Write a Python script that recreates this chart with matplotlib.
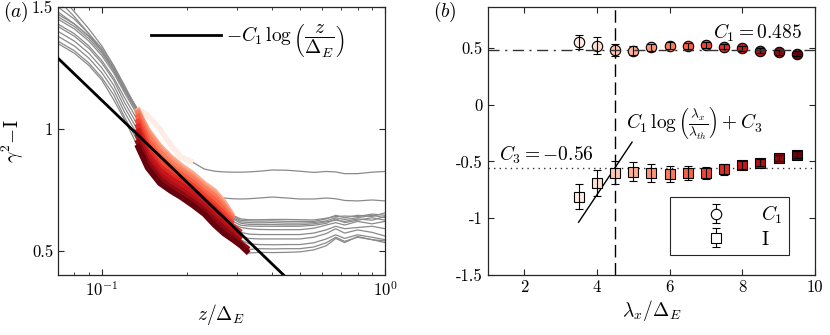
import numpy as np
import matplotlib
matplotlib.use('Agg')
import matplotlib.pyplot as plt
from matplotlib.ticker import FixedLocator, FixedFormatter, LogLocator, NullFormatter, LogFormatterSciNotation

plt.rcParams['font.family'] = 'serif'
plt.rcParams['font.serif'] = ['cmr10', 'DejaVu Serif']
plt.rcParams['mathtext.fontset'] = 'cm'
plt.rcParams['axes.unicode_minus'] = False
plt.rcParams['axes.formatter.use_mathtext'] = False

# ---------------- data: panel (a) ----------------
z_grid = [0.07, 0.08, 0.09, 0.10, 0.11, 0.12, 0.133, 0.145, 0.16, 0.175, 0.19, 0.21,
          0.23, 0.25, 0.27, 0.29, 0.31, 0.33, 0.36, 0.40, 0.45, 0.50, 0.56, 0.62,
          0.67, 0.72, 0.80, 0.90, 1.0]
g0 = [1.56, 1.48, 1.41, 1.34, 1.26, 1.17, 1.085, 1.055, 1.0, 0.935, 0.885, 0.862, 0.835, 0.826, 0.823, 0.822, 0.822, 0.823, 0.826, 0.831, 0.830, 0.826, 0.821, 0.825, 0.823, 0.816, 0.816, 0.822, 0.825]
g1 = [1.53, 1.46, 1.39, 1.32, 1.24, 1.16, 1.07, 1.0, 0.93, 0.88, 0.84, 0.80, 0.76, 0.72, 0.716, 0.713, 0.712, 0.713, 0.716, 0.72, 0.716, 0.712, 0.712, 0.716, 0.713, 0.706, 0.704, 0.708, 0.704]
g2 = [1.50, 1.45, 1.39, 1.33, 1.26, 1.18, 1.08, 0.99, 0.925, 0.88, 0.845, 0.81, 0.77, 0.74, 0.695, 0.645, 0.630, 0.627, 0.627, 0.628, 0.628, 0.627, 0.626, 0.633, 0.64, 0.642, 0.64, 0.65, 0.645]
g3 = [1.48, 1.43, 1.38, 1.32, 1.25, 1.17, 1.085, 0.995, 0.93, 0.885, 0.85, 0.815, 0.775, 0.745, 0.70, 0.64, 0.624, 0.622, 0.621, 0.622, 0.62, 0.62, 0.62, 0.63, 0.645, 0.635, 0.645, 0.64, 0.655]
g4 = [1.47, 1.43, 1.38, 1.32, 1.25, 1.17, 1.08, 0.99, 0.92, 0.875, 0.84, 0.805, 0.765, 0.735, 0.69, 0.635, 0.618, 0.615, 0.614, 0.615, 0.613, 0.613, 0.615, 0.622, 0.635, 0.628, 0.635, 0.645, 0.635]
g5 = [1.46, 1.42, 1.37, 1.31, 1.24, 1.16, 1.075, 0.975, 0.905, 0.86, 0.83, 0.795, 0.755, 0.725, 0.68, 0.63, 0.612, 0.608, 0.607, 0.607, 0.606, 0.606, 0.61, 0.618, 0.625, 0.62, 0.63, 0.625, 0.64]
g6 = [1.45, 1.41, 1.36, 1.30, 1.23, 1.15, 1.06, 0.955, 0.885, 0.845, 0.815, 0.78, 0.74, 0.71, 0.665, 0.62, 0.604, 0.601, 0.600, 0.600, 0.600, 0.600, 0.604, 0.612, 0.63, 0.615, 0.625, 0.635, 0.625]
g7 = [1.43, 1.39, 1.34, 1.28, 1.21, 1.13, 1.04, 0.935, 0.865, 0.825, 0.80, 0.765, 0.725, 0.69, 0.65, 0.61, 0.595, 0.59, 0.587, 0.586, 0.586, 0.586, 0.592, 0.605, 0.615, 0.605, 0.62, 0.61, 0.62]
g8 = [1.42, 1.38, 1.33, 1.27, 1.20, 1.11, 1.02, 0.915, 0.845, 0.81, 0.785, 0.75, 0.71, 0.675, 0.635, 0.60, 0.575, 0.568, 0.566, 0.566, 0.566, 0.566, 0.572, 0.585, 0.60, 0.59, 0.595, 0.60, 0.59]
g9 = [1.40, 1.36, 1.31, 1.25, 1.18, 1.09, 1.0, 0.895, 0.83, 0.795, 0.77, 0.735, 0.695, 0.66, 0.62, 0.59, 0.56, 0.55, 0.548, 0.548, 0.548, 0.548, 0.555, 0.57, 0.59, 0.572, 0.585, 0.575, 0.56]
g10 = [1.38, 1.34, 1.29, 1.23, 1.16, 1.07, 0.98, 0.875, 0.81, 0.775, 0.75, 0.715, 0.68, 0.64, 0.605, 0.575, 0.545, 0.528, 0.525, 0.524, 0.525, 0.525, 0.532, 0.548, 0.565, 0.55, 0.565, 0.555, 0.545]
g11 = [1.36, 1.32, 1.27, 1.21, 1.14, 1.05, 0.955, 0.86, 0.795, 0.76, 0.735, 0.70, 0.665, 0.625, 0.59, 0.56, 0.53, 0.505, 0.508, 0.507, 0.508, 0.508, 0.515, 0.532, 0.555, 0.538, 0.555, 0.545, 0.54]
g12 = [1.35, 1.31, 1.26, 1.20, 1.12, 1.04, 0.935, 0.84, 0.777, 0.745, 0.72, 0.685, 0.65, 0.605, 0.57, 0.545, 0.52, 0.49, 0.493, 0.492, 0.493, 0.495, 0.503, 0.52, 0.55, 0.533, 0.558, 0.545, 0.533]
curves = [g0, g1, g2, g3, g4, g5, g6, g7, g8, g9, g10, g11, g12]
fit_start = [0.133] * 13
fit_end = [0.21, 0.25, 0.29, 0.29, 0.29, 0.29, 0.29, 0.29, 0.31, 0.31, 0.31, 0.33, 0.33]
C1_fit = 0.485
fit_line_z = [0.07, 1.0]

# ---------------- data: panel (b) ----------------
lam = [3.5, 4.0, 4.5, 5.0, 5.5, 6.0, 6.5, 7.0, 7.5, 8.0, 8.5, 9.0, 9.5]
C1_vals = [0.555, 0.52, 0.48, 0.475, 0.505, 0.52, 0.515, 0.525, 0.51, 0.495, 0.475, 0.46, 0.45]
C1_err = [0.062, 0.072, 0.05, 0.04, 0.03, 0.03, 0.025, 0.025, 0.02, 0.02, 0.02, 0.02, 0.02]
I_vals = [-0.81, -0.69, -0.60, -0.59, -0.60, -0.61, -0.60, -0.60, -0.57, -0.535, -0.51, -0.47, -0.44]
I_err = [0.11, 0.115, 0.10, 0.085, 0.078, 0.07, 0.063, 0.054, 0.045, 0.035, 0.03, 0.03, 0.03]
C3_fit = -0.56
lam_th = 4.5
slope_line_x = [3.5, 4.97]
slope_line_y = [-1.035, -0.33]

colors = plt.cm.Reds(np.linspace(0.05, 1.0, len(lam)))
axcol = '#262626'

fig = plt.figure(figsize=(8.3, 3.35), dpi=100)
ax1 = fig.add_axes([58/830, 60/335, 327/830, 268/335])
ax2 = fig.add_axes([487.7/830, 60/335, 327.3/830, 268/335])

# ---- panel (a)
zg = np.array(z_grid)
for g in curves:
    ax1.plot(zg, g, color='#8a8a8a', lw=0.9, zorder=1)
for i, g in enumerate(curves):
    ga = np.array(g)
    m = (zg >= fit_start[i] - 1e-9) & (zg <= fit_end[i] + 1e-9)
    ax1.plot(zg[m], ga[m], color=colors[i], lw=4.0, solid_capstyle='butt',
             solid_joinstyle='round', zorder=2)
zl = np.array(fit_line_z)
ax1.plot(zl, -C1_fit * np.log(zl), color='k', lw=2.0, zorder=3,
         label=r'$-C_1\,\log\left(\dfrac{z}{\Delta_E}\right)$')
ax1.set_xscale('log')
ax1.set_xlim(0.07, 1.0)
ax1.set_ylim(0.4, 1.5)
ax1.set_yticks([0.5, 1.0, 1.5])
ax1.yaxis.set_major_formatter(FixedFormatter(['0.5', '1', '1.5']))
ax1.xaxis.set_major_locator(FixedLocator([0.1, 1.0]))
ax1.xaxis.set_major_formatter(LogFormatterSciNotation())
ax1.xaxis.set_minor_locator(LogLocator(base=10, subs=np.arange(2, 10)))
ax1.xaxis.set_minor_formatter(NullFormatter())
ax1.set_xlabel(r'$z/\Delta_E$', fontsize=14, labelpad=2)
ax1.set_ylabel(r'$\gamma^2\!-\!\mathrm{I}$', fontsize=14, labelpad=4)
leg1 = ax1.legend(loc='center', bbox_to_anchor=(0.58, 0.875), frameon=False,
                  fontsize=14, handlelength=3.6, handletextpad=0.3)

# ---- panel (b)
for i in range(len(lam)):
    ax2.plot(lam[i], C1_vals[i], 'o', mfc=colors[i], mec='k', ms=7.5, mew=0.8, zorder=3)
    ax2.plot(lam[i], I_vals[i], 's', mfc=colors[i], mec='k', ms=7.5, mew=0.8, zorder=3)
ax2.errorbar(lam, C1_vals, yerr=C1_err, fmt='none', ecolor='k', elinewidth=0.8,
             capsize=3, capthick=0.8, zorder=4)
ax2.errorbar(lam, I_vals, yerr=I_err, fmt='none', ecolor='k', elinewidth=0.8,
             capsize=3, capthick=0.8, zorder=4)
ax2.axhline(C1_fit, color='#333333', lw=1.0, ls=(0, (8, 4, 1.5, 4)), zorder=5)
ax2.axhline(C3_fit, color='#333333', lw=1.0, ls=(0, (1, 3)), zorder=2)
ax2.axvline(lam_th, color='k', lw=1.0, ls=(0, (9, 4)), zorder=2)
ax2.plot(slope_line_x, slope_line_y, color='k', lw=1.0, zorder=2)
ax2.text(7.2, 0.635, r'$C_1 = 0.485$', fontsize=14, va='center', ha='left')
ax2.text(1.3, -0.44, r'$C_3 = -0.56$', fontsize=14, va='center', ha='left')
ax2.text(4.8, -0.165, r'$C_1\,\log\left(\frac{\lambda_x}{\lambda_{th}}\right)+C_3$',
         fontsize=14, va='center', ha='left')
h1 = ax2.errorbar([np.nan], [np.nan], yerr=[0.1], fmt='o', mfc='w', mec='k', ms=7.5,
                  mew=0.8, ecolor='k', elinewidth=0.8, capsize=3, label=r'$C_1$')
h2 = ax2.errorbar([np.nan], [np.nan], yerr=[0.1], fmt='s', mfc='w', mec='k', ms=7.5,
                  mew=0.8, ecolor='k', elinewidth=0.8, capsize=3, label=r'$\mathrm{I}$')
leg2 = ax2.legend(handles=[h1, h2], loc='lower right', bbox_to_anchor=(0.951, 0.037),
                  fontsize=14, handlelength=4.0, handletextpad=0.3, borderpad=0.35,
                  fancybox=False, framealpha=1, edgecolor=axcol, labelspacing=0.25)
leg2.get_frame().set_linewidth(0.8)
ax2.set_xlim(1, 10)
ax2.set_ylim(-1.5, 0.86)
ax2.set_xticks([2, 4, 6, 8, 10])
ax2.xaxis.set_major_formatter(FixedFormatter(['2', '4', '6', '8', '10']))
ax2.set_yticks([-1.5, -1, -0.5, 0, 0.5])
ax2.yaxis.set_major_formatter(FixedFormatter(['-1.5', '-1', '-0.5', '0', '0.5']))
ax2.set_xlabel(r'$\lambda_x/\Delta_E$', fontsize=14, labelpad=2)

for ax in (ax1, ax2):
    ax.tick_params(which='both', direction='in', top=True, right=True,
                   labelsize=12, colors=axcol, labelcolor='k')
    ax.tick_params(which='major', length=4, width=0.8)
    ax.tick_params(which='minor', length=2, width=0.6)
    for s in ax.spines.values():
        s.set_color(axcol)
        s.set_linewidth(0.9)

fig.text(3/830, 1 - 12/335, r'$(a)$', fontsize=14, va='center', ha='left')
fig.text(433/830, 1 - 12/335, r'$(b)$', fontsize=14, va='center', ha='left')

fig.savefig('out.png', dpi=100)
